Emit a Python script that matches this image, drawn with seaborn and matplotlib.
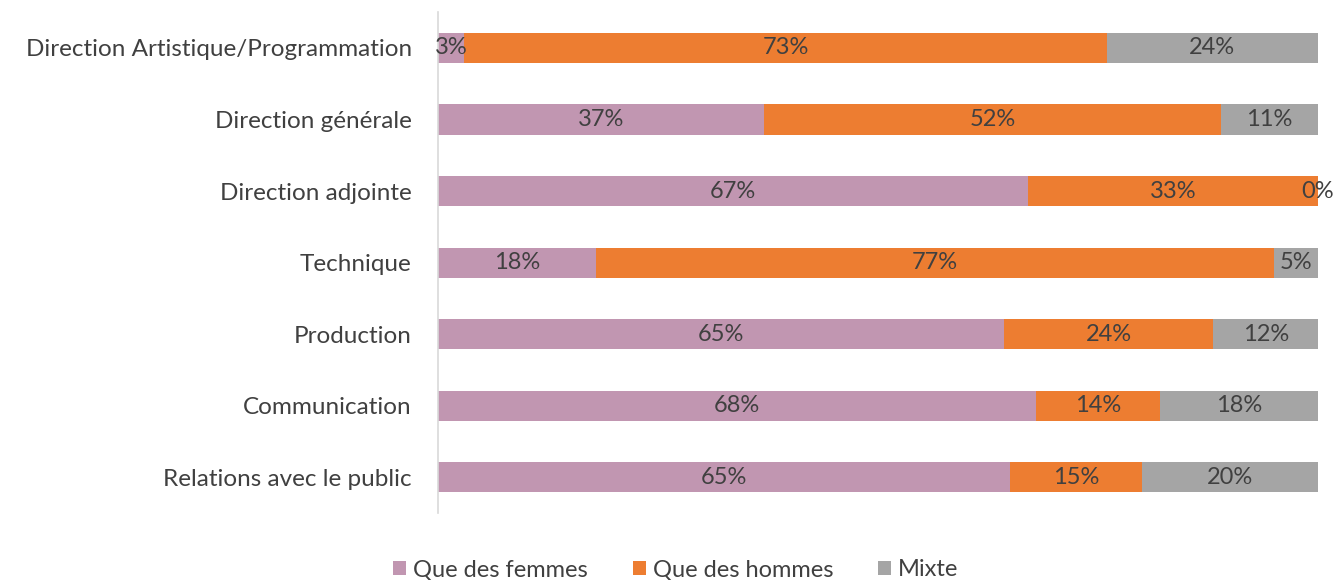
import numpy as np
import pandas as pd
import matplotlib
matplotlib.use("Agg")
import matplotlib.pyplot as plt
import seaborn as sns
from matplotlib.patches import Patch

categories = ["Direction Artistique/Programmation", "Direction générale", "Direction adjointe",
              "Technique", "Production", "Communication", "Relations avec le public"]
femmes = [3, 37, 67, 18, 65, 68, 65]
hommes = [73, 52, 33, 77, 24, 14, 15]
mixte = [24, 11, 0, 5, 12, 18, 20]
series_names = ["Que des femmes", "Que des hommes", "Mixte"]
colors = ["#C196B1", "#ED7D31", "#A5A5A5"]

sns.set_theme(style="white")
plt.rcParams['font.family'] = ['Lato', 'DejaVu Sans']
text_color = "#404040"

vals = np.array([femmes, hommes, mixte], dtype=float)
shares = vals / vals.sum(axis=0) * 100
cum = np.cumsum(shares, axis=0)

fig = plt.figure(figsize=(13.33, 5.8), dpi=100)
ax = fig.add_axes([0.3286, 0.1155, 0.9887 - 0.3286, 0.979 - 0.1155])

for i in range(2, -1, -1):
    df = pd.DataFrame({"cat": categories, "v": cum[i]})
    sns.barplot(data=df, x="v", y="cat", orient="h", color=colors[i], width=0.42,
                saturation=1, ax=ax, order=categories, linewidth=0, edgecolor="none")

for j in range(len(categories)):
    left = 0
    for i in range(3):
        w = shares[i, j]
        ax.text(left + w / 2, j, f"{vals[i, j]:.0f}%", ha="center", va="center",
                fontsize=17, color=text_color)
        left += w

ax.set_xlim(0, 100)
ax.set_ylim(6.5, -0.5)
ax.set_xlabel("")
ax.set_ylabel("")
ax.set_xticks([])
ax.tick_params(axis="y", length=0, pad=19, labelsize=17.5, labelcolor=text_color)
for s in ["top", "right", "bottom"]:
    ax.spines[s].set_visible(False)
ax.spines["left"].set_color("#D9D9D9")
ax.spines["left"].set_linewidth(1.2)

handles = [Patch(facecolor=c, edgecolor="none") for c in colors]
leg = fig.legend(handles, series_names, loc="center", bbox_to_anchor=(0.507, 0.018),
                 ncol=3, frameon=False, fontsize=17, handlelength=0.55, handleheight=0.55,
                 handletextpad=0.3, columnspacing=1.9)
for t in leg.get_texts():
    t.set_color(text_color)

fig.savefig("out.png", dpi=100)
